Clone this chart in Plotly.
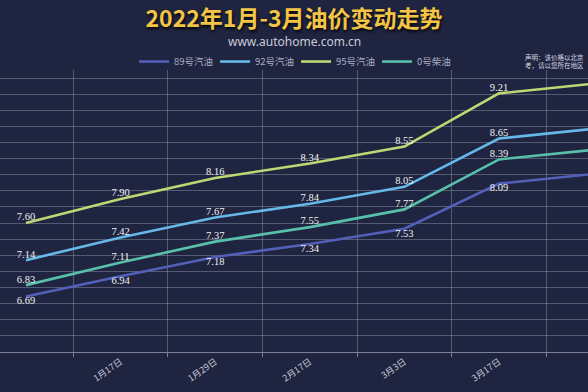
import plotly.graph_objects as go

dates = ["12月31日", "1月17日", "1月29日", "2月17日", "3月3日", "3月17日", "3月31日"]
series_names = ["89号汽油", "92号汽油", "95号汽油", "0号柴油"]
p89 = [6.69, 6.94, 7.18, 7.34, 7.53, 8.09, 8.21]
p92 = [7.14, 7.42, 7.67, 7.84, 8.05, 8.65, 8.77]
p95 = [7.60, 7.90, 8.16, 8.34, 8.55, 9.21, 9.33]
p0 = [6.83, 7.11, 7.37, 7.55, 7.77, 8.39, 8.51]

colors = ["#5260b8", "#66b8e8", "#bcd873", "#58c0aa"]
label_pos = ["bottom center", "top center", "top center", "top center"]

bg = "#1f2440"
grid = "rgba(200,205,225,0.32)"
x_range = [-0.275, 5.941]

idx = list(range(len(dates)))
fig = go.Figure()
for name, vals, col, pos in zip(series_names, [p89, p92, p95, p0], colors, label_pos):
    labels = [f"{v:.2f}" if x_range[0] <= i <= x_range[1] else "" for i, v in zip(idx, vals)]
    fig.add_trace(go.Scatter(
        x=idx, y=vals, name=name, mode="lines+text",
        line=dict(color=col, width=2.6),
        text=labels, textposition=pos,
        textfont=dict(family="Liberation Serif", size=10.5, color="#f2f2f2"),
        cliponaxis=True,
    ))

fig.update_layout(
    width=588, height=392,
    paper_bgcolor=bg, plot_bgcolor=bg,
    margin=dict(l=0, r=0, t=70, b=40, autoexpand=False),
    title=dict(
        text="<b>2022年1月-3月油价变动走势</b>",
        x=0.5, xanchor="center", y=1 - 19 / 392, yanchor="middle",
        font=dict(family="Noto Sans CJK SC", size=23, color="#f3c445",
                  shadow="1px 2px 3px rgba(0,0,0,0.85)"),
    ),
    legend=dict(
        orientation="h", x=0.228, xanchor="left", y=1.03, yanchor="middle",
        font=dict(family="Noto Sans CJK SC", size=9.5, color="#a9adc4"),
        itemwidth=30, entrywidth=36, entrywidthmode="pixels",
        bgcolor="rgba(0,0,0,0)", tracegroupgap=0,
    ),
    showlegend=True,
    xaxis=dict(
        range=x_range, tickmode="array", tickvals=idx, ticktext=dates,
        tickangle=-35, showgrid=False, zeroline=False, ticks="",
        tickfont=dict(family="Noto Sans CJK SC", size=9, color="#c4c8d6"),
        showline=True, linecolor="rgba(200,205,225,0.55)", linewidth=1,
        minor=dict(tickmode="array", tickvals=[i + 0.5 for i in idx], showgrid=True,
                   gridcolor=grid, gridwidth=1, ticks="outside", ticklen=4,
                   tickcolor="rgba(200,205,225,0.55)"),
        automargin=False,
    ),
    yaxis=dict(
        range=[6.0, 9.5], tick0=6.0, dtick=0.2, showticklabels=False,
        showgrid=True, gridcolor=grid, gridwidth=1, zeroline=False,
        automargin=False,
    ),
    annotations=[
        dict(text="www.autohome.com.cn", xref="paper", yref="paper", x=0.5, y=1.1,
             xanchor="center", yanchor="middle", showarrow=False,
             font=dict(family="Noto Sans", size=12, color="#c9cbd6")),
        dict(text="声明：该价格以北京<br>考，请以您所在地区",
             xref="paper", yref="paper", x=523 / 588, y=1.032, xanchor="left",
             yanchor="middle", align="left", showarrow=False,
             font=dict(family="Noto Sans CJK SC", size=6.5, color="#d4d6e0")),
    ],
)

fig.write_html("out.html",
               config={"displayModeBar": False},
               post_script="document.body.style.margin='0';document.body.style.overflow='hidden';document.body.style.background='%s';" % bg)
